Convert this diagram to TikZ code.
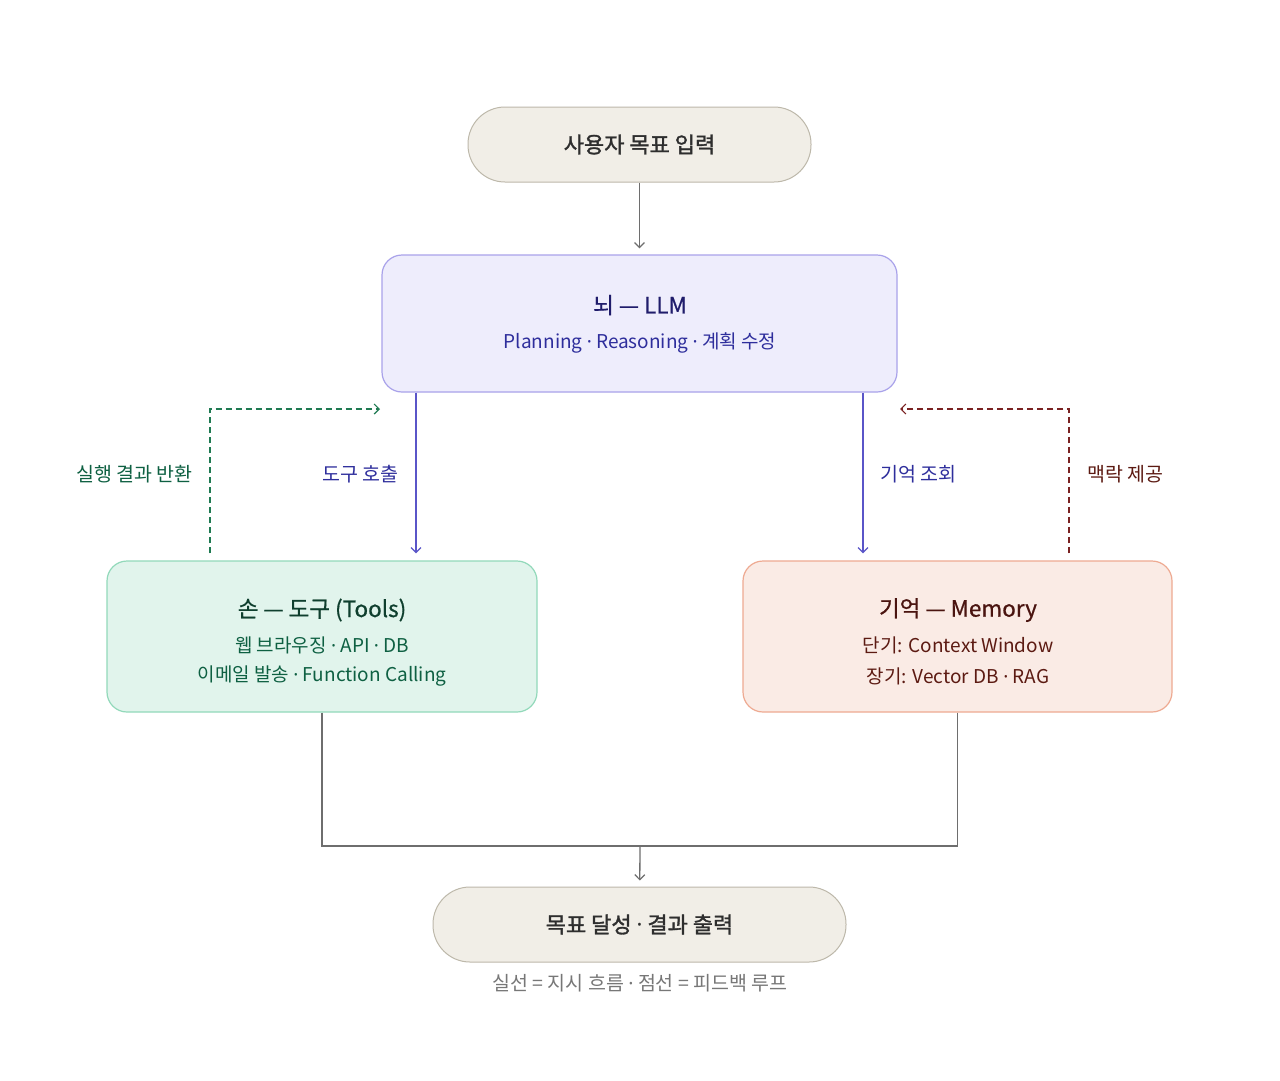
\documentclass[tikz,border=0pt]{standalone}
\usepackage{fontspec}
\setmainfont{Noto Sans CJK KR}
\newfontfamily\titlefont[FakeBold=0.7]{Noto Sans CJK KR}
\newfontfamily\pillfont[FakeBold=1.4]{Noto Sans CJK KR}
\newfontfamily\latinfont{Noto Sans}
\newcommand\md{{\latinfont ·}}
\usetikzlibrary{arrows.meta}
\definecolor{pillfill}{HTML}{F1EEE7}
\definecolor{pilldraw}{HTML}{BDB8AA}
\definecolor{pilltext}{HTML}{2E2E2E}
\definecolor{flow}{HTML}{6E6E6E}
\definecolor{llmfill}{HTML}{EEEDFC}
\definecolor{llmdraw}{HTML}{A9A2EA}
\definecolor{llmtitle}{HTML}{1F1C6B}
\definecolor{llmtext}{HTML}{2E2E9C}
\definecolor{blueline}{HTML}{5A55C8}
\definecolor{toolfill}{HTML}{E1F4EC}
\definecolor{tooldraw}{HTML}{92D9BA}
\definecolor{tooltitle}{HTML}{0F3F2E}
\definecolor{tooltext}{HTML}{0E6042}
\definecolor{greenline}{HTML}{1F7A52}
\definecolor{memfill}{HTML}{FAEBE5}
\definecolor{memdraw}{HTML}{EEAA92}
\definecolor{memtitle}{HTML}{4A1410}
\definecolor{memtext}{HTML}{5C1A12}
\definecolor{brownline}{HTML}{7A2222}
\definecolor{captext}{HTML}{777777}
\tikzset{
  pill/.style={draw=pilldraw, fill=pillfill, line width=1pt, rounded corners=37pt, text=pilltext, font=\pillfont\fontsize{22}{26}\selectfont, inner sep=0pt},
  card/.style={line width=1.2pt, rounded corners=20pt, inner sep=0pt},
  ttl/.style={font=\titlefont\fontsize{22.5}{26}\selectfont, inner sep=0pt},
  sub/.style={font=\fontsize{19}{23}\selectfont, inner sep=0pt},
  lbl/.style={font=\fontsize{19.5}{23}\selectfont, inner sep=0pt},
  tip/.style={-{Straight Barb[length=5pt,width=10pt,line width=1.2pt]}},
  flowarr/.style={draw=flow, line width=1.3pt},
  instr/.style={draw=blueline, line width=1.3pt},
  fb/.style={line width=1.3pt, dash pattern=on 6pt off 4pt}
}
\begin{document}
\begin{tikzpicture}[x=1pt,y=-1pt]
\useasboundingbox (0,0) rectangle (1280,1080);
\fill[white] (0,0) rectangle (1280,1080);

% nodes
\node[pill, minimum width=343pt, minimum height=75pt] (goal) at (639.5,144.5) {사용자 목표 입력};
\node[card, draw=llmdraw, fill=llmfill, minimum width=515pt, minimum height=137pt] (llm) at (639.5,323.5) {};
\node[ttl, text=llmtitle] (llmT) at (640,305) {뇌 — LLM};
\node[sub, text=llmtext] (llmS) at (640,343) {Planning \md{} Reasoning \md{} 계획 수정};

\node[card, draw=tooldraw, fill=toolfill, minimum width=430pt, minimum height=151pt] (tools) at (322,636.5) {};
\node[ttl, text=tooltitle] (toolsT) at (322,610) {손 — 도구 (Tools)};
\node[sub, text=tooltext] (toolsA) at (322,645) {웹 브라우징 \md{} API \md{} DB};
\node[sub, text=tooltext] (toolsB) at (322,676) {이메일 발송 \md{} Function Calling};

\node[card, draw=memdraw, fill=memfill, minimum width=429pt, minimum height=151pt] (mem) at (957.5,636.5) {};
\node[ttl, text=memtitle] (memT) at (958,610) {기억 — Memory};
\node[sub, text=memtext] (memA) at (958,645) {단기: Context Window};
\node[sub, text=memtext] (memB) at (958,676) {장기: Vector DB \md{} RAG};

\node[pill, minimum width=413pt, minimum height=75pt] (done) at (639.5,924.5) {목표 달성 \md{} 결과 출력};
\node[lbl, text=captext] (cap) at (640,983) {실선 = 지시 흐름 \md{} 점선 = 피드백 루프};

% labels
\node[lbl, text=llmtext, anchor=east] (callL) at (399,474) {도구 호출};
\node[lbl, text=tooltext, anchor=east] (retL) at (193,474) {실행 결과 반환};
\node[lbl, text=llmtext, anchor=west] (lookL) at (880,474) {기억 조회};
\node[lbl, text=memtext, anchor=west] (ctxL) at (1087,474) {맥락 제공};

% helper coordinates
\coordinate (xa) at (416,0);
\coordinate (xb) at (863,0);
\coordinate (xg) at (210,0);
\coordinate (xr) at (1069,0);
\coordinate (gend) at (380,409);
\coordinate (rend) at (900,409);
\coordinate (mj) at (640,846);

% connectors
\draw[flowarr, tip, shorten >=6pt] (goal) -- (llm);
\draw[instr, tip, shorten >=7pt] (llm.south -| xa) -- (tools.north -| xa);
\draw[instr, tip, shorten >=7pt] (llm.south -| xb) -- (mem.north -| xb);
\draw[fb, draw=greenline, tip, shorten <=7pt] (tools.north -| xg) |- (gend);
\draw[fb, draw=brownline, tip, shorten <=7pt] (mem.north -| xr) |- (rend);
\draw[flowarr] (tools.south) |- (mj);
\draw[flowarr] (mem.south) |- (mj);
\draw[flowarr, tip, shorten >=6pt] (mj) -- (done);
\end{tikzpicture}
\end{document}
